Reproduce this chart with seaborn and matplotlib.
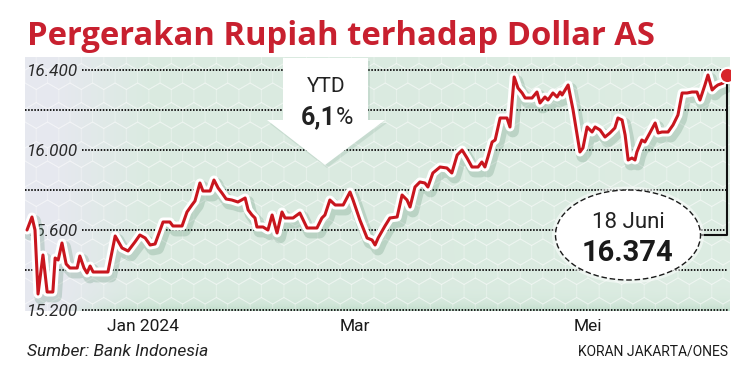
import numpy as np
import pandas as pd
import matplotlib
matplotlib.use("Agg")
import matplotlib.pyplot as plt
import seaborn as sns
from matplotlib import patheffects as pe
from matplotlib.patches import Ellipse, Polygon
from matplotlib.transforms import Affine2D
from matplotlib.lines import Line2D

# ---------------- data ----------------
hari = [0, 1.3, 2.1, 2.9, 4.2, 5.3, 6.1, 6.8, 7.4, 8.2, 9.2, 10.3, 11.3, 13.2, 13.9, 15.0, 15.8,
        16.6, 17.4, 21.3, 23.2, 25.0, 26.6, 28.4, 29.7, 31.1, 32.4, 33.7, 35.8, 37.6, 38.4, 40.8,
        42.1, 43.4, 44.2, 45.5, 46.3, 48.2, 49.2, 50.3, 51.3, 52.4, 53.9, 55.5, 57.4, 58.2, 59.2,
        60.0, 60.5, 62.1, 63.4, 64.5, 65.8, 67.1, 67.9, 70.0, 71.8, 73.7, 76.3, 77.6, 78.4, 79.7,
        81.1, 83.2, 85.0, 85.8, 87.6, 89.5, 90.8, 91.6, 92.4, 94.2, 95.5, 97.4, 98.7, 100.0, 100.8,
        102.1, 103.4, 104.7, 105.5, 106.8, 108.7, 110.5, 111.8, 113.2, 114.5, 115.8, 117.1, 118.7,
        119.7, 120.5, 121.3, 122.4, 123.2, 124.5, 126.3, 127.1, 128.2, 129.2, 130.3, 131.1, 132.9,
        134.2, 135.0, 136.3, 137.1, 138.4, 139.5, 140.3, 140.8, 141.6, 142.4, 143.7, 145.5, 146.3,
        147.4, 148.7, 149.5, 150.8, 152.1, 153.4, 154.7, 155.5, 156.6, 157.4, 158.2, 159.2, 160.0,
        160.5, 161.8, 162.6, 163.9, 165.3, 166.1, 167.1, 168.7, 170.0, 171.3, 172.4, 173.7, 175.0,
        176.3, 177.1, 178.4, 179.2, 180.3, 181.1, 181.8, 183.2, 184.2]
kurs = [15600, 15665, 15600, 15280, 15475, 15290, 15290, 15290, 15460, 15450, 15535, 15430, 15410,
        15410, 15470, 15410, 15385, 15420, 15390, 15390, 15570, 15510, 15495, 15540, 15575, 15560,
        15525, 15530, 15640, 15640, 15620, 15620, 15690, 15725, 15745, 15835, 15795, 15795, 15850,
        15810, 15785, 15755, 15750, 15740, 15760, 15700, 15675, 15660, 15615, 15615, 15600, 15675,
        15585, 15690, 15660, 15660, 15685, 15610, 15610, 15660, 15675, 15750, 15725, 15725, 15790,
        15750, 15650, 15560, 15550, 15525, 15560, 15620, 15660, 15665, 15775, 15750, 15715, 15815,
        15840, 15835, 15815, 15885, 15915, 15910, 15885, 15975, 16000, 15960, 15915, 15915, 15940,
        15915, 15965, 16040, 16050, 16160, 16160, 16115, 16365, 16310, 16285, 16260, 16260, 16290,
        16235, 16265, 16250, 16285, 16265, 16290, 16275, 16300, 16325, 16200, 15990, 16010, 16115,
        16090, 16115, 16100, 16065, 16085, 16110, 16160, 16150, 16075, 15950, 15960, 15950, 15990,
        16050, 16040, 16085, 16135, 16085, 16090, 16090, 16125, 16175, 16285, 16285, 16290, 16290,
        16250, 16325, 16375, 16300, 16315, 16325, 16335, 16374]
tick_pos = [30.5, 86.3, 147.6]
tick_lab = ["Jan 2024", "Mar", "Mei"]
y_ticks = [15200, 15600, 16000, 16400]
y_labels = ["15.200", "15.600", "16.000", "16.400"]
grid_levels = [15200, 15400, 15600, 15800, 16000, 16200, 16400]

title = "Pergerakan Rupiah terhadap Dollar AS"
ytd_label, ytd_value = "YTD", "6,1"
end_label = "18 Juni"
end_value = "16.374"
source = "Sumber: Bank Indonesia"
credit = "KORAN JAKARTA/ONES"

df = pd.DataFrame({"hari": hari, "kurs": kurs})

# ---------------- figure ----------------
W, H = 748, 379
sns.set_style("white")
plt.rcParams["font.family"] = ["Roboto", "DejaVu Sans"]
fig = plt.figure(figsize=(W / 100, H / 100), dpi=100)
PX = Affine2D().scale(1 / W, -1 / H).translate(0, 1) + fig.transFigure

L, R, T, B = 25, 730, 57, 311
ax = fig.add_axes([L / W, 1 - B / H, (R - L) / W, (B - T) / H])
ax.set_xlim(-0.53, 185.0)
ax.set_ylim(15195, 16465)
for s in ax.spines.values():
    s.set_visible(False)

# background gradient panel
nx, ny = 500, 120
t = np.linspace(0, 1, nx)[None, :, None]
v = np.linspace(0, 1, ny)[:, None, None]
left_c = np.array([0.905, 0.910, 0.940])
green_c = np.array([0.855, 0.920, 0.880])
right_c = np.array([0.875, 0.932, 0.895])
w = np.clip((t - 0.04) / 0.14, 0, 1)
base = left_c * (1 - w) + green_c * w
w2 = np.clip((t - 0.5) / 0.5, 0, 1)
base = base * (1 - w2 * 0.6) + right_c * (w2 * 0.6)
top_band = np.array([0.76, 0.87, 0.80])
tb = np.exp(-v / 0.025) * np.clip((t - 0.05) / 0.1, 0, 1)
img = base * (1 - tb) + top_band * tb
img = np.broadcast_to(img, (ny, nx, 3))
ax.imshow(img, extent=[-0.53, 185.0, 16465, 15195], aspect="auto", zorder=0,
          interpolation="bilinear")

# subtle hexagon / cube pattern
hex_r = 13.0
for row in range(-1, 14):
    for col in range(-1, 32):
        cx = col * hex_r * np.sqrt(3) + (row % 2) * hex_r * np.sqrt(3) / 2 + L
        cy = row * hex_r * 1.5 + T
        ang = np.deg2rad(np.arange(30, 390, 60))
        xs = cx + hex_r * np.cos(ang)
        ys = cy + hex_r * np.sin(ang)
        ln = Line2D(xs, ys, transform=PX, color="white", lw=0.8, alpha=0.3, zorder=0.5)
        ln.set_clip_path(ax.patch)
        ax.add_line(ln)

# dotted grid lines (labelled ones start after the label)
x_label_end = (82 - 27) / 3.8
for g in grid_levels:
    x0 = x_label_end if g in y_ticks else -0.53
    ax.hlines(g, x0, 184.5, colors="#1a1a1a", linestyles=(0, (0.8, 0.8)), lw=1.4, zorder=1)

# main line
sns.lineplot(data=df, x="hari", y="kurs", ax=ax, color="#c8161e", lw=2.2, sort=False,
             estimator=None, zorder=5,
             path_effects=[pe.SimpleLineShadow(offset=(2, -3), shadow_color="#5d8f74", alpha=0.25,
                                               linewidth=9),
                           pe.Stroke(linewidth=6.5, foreground="white"), pe.Normal()])

ax.set_xlabel("")
ax.set_ylabel("")
ax.set_xticks(tick_pos)
ax.set_xticklabels(tick_lab, fontsize=12.5, color="#1a1a1a")
ax.tick_params(axis="x", length=0, pad=6)
ax.set_yticks(y_ticks)
ax.set_yticklabels(y_labels, fontsize=12.3, color="#2a2a2a", style="italic")
ax.tick_params(axis="y", length=0, pad=-1.5)
for lbl in ax.get_yticklabels():
    lbl.set_horizontalalignment("left")
ax.grid(False)

# end point dot
ax.scatter([hari[-1]], [kurs[-1]], s=120, color="#d7262b", edgecolor="white", linewidth=1.5,
           zorder=7)

# title
fig.text(27, 45, title, transform=PX, fontsize=23.6, fontweight="bold", color="#c8202f",
         family=["Open Sans", "DejaVu Sans"], va="baseline", ha="left")

# YTD arrow
arrow_pts = [(283, 58), (368, 58), (368, 120), (385, 120), (325, 165), (267, 120), (283, 120)]
shadow = Polygon([(x + 2, y + 3) for x, y in arrow_pts], closed=True, transform=PX,
                 facecolor="#6d9a82", alpha=0.18, edgecolor="none", zorder=3)
arrow = Polygon(arrow_pts, closed=True, transform=PX, facecolor="white", edgecolor="none",
                zorder=3)
ax.add_patch(shadow)
ax.add_patch(arrow)
shadow.set_clip_on(False)
arrow.set_clip_on(False)
ax.text(326, 86, ytd_label, transform=PX, ha="center", va="center", fontsize=15,
        color="#222222", zorder=4)
ax.text(336, 117, ytd_value, transform=PX, ha="right", va="center", fontsize=18,
        fontweight="bold", color="#222222", zorder=4)
ax.text(336, 117, "%", transform=PX, ha="left", va="center", fontsize=17,
        color="#222222", zorder=4)

# connector from end point to ellipse
dot_disp = ax.transData.transform((hari[-1], kurs[-1]))
dot_py = H - dot_disp[1]
dot_px = dot_disp[0]
conn = Line2D([700, dot_px, dot_px], [235, 235, dot_py], transform=PX, color="#111111",
              lw=1.5, zorder=6)
conn.set_clip_on(False)
ax.add_line(conn)

# ellipse callout
halo = Ellipse((628, 235), 152, 97, transform=PX, facecolor="white", alpha=0.5,
               edgecolor="none", zorder=6)
ell = Ellipse((628, 235), 145, 90, transform=PX, facecolor="white", edgecolor="#1a1a1a",
              lw=1.0, linestyle=(0, (4, 2)), zorder=6)
ax.add_patch(halo)
ax.add_patch(ell)
ax.text(628, 223, end_label, transform=PX, ha="center", va="center", fontsize=16,
        color="#222222", zorder=7)
ax.text(628, 253, end_value, transform=PX, ha="center", va="center", fontsize=21,
        fontweight="bold", color="#1a1a1a", zorder=7)

# footer
fig.text(27, 352, source, transform=PX, ha="left", va="center", fontsize=12.5,
         style="italic", color="#222222")
fig.text(728, 351, credit, transform=PX, ha="right", va="center", fontsize=10,
         color="#1a1a1a")

fig.savefig("out.png", dpi=100)
